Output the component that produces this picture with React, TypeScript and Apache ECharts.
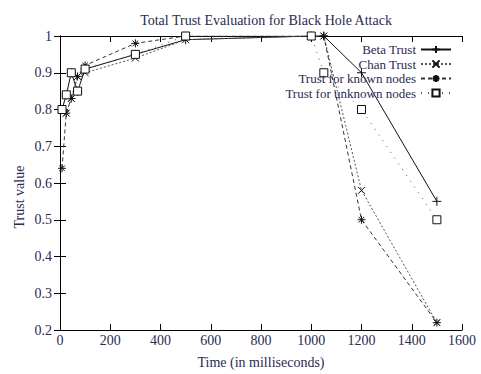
import React, { useEffect, useRef } from "react";
import * as echarts from "echarts";

const times = [8, 25, 45, 70, 100, 300, 500, 1000, 1050, 1200, 1500];
const betaTrust = [0.8, 0.84, 0.9, 0.85, 0.91, 0.95, 0.99, 1.0, 1.0, 0.9, 0.55];
const chanTrust = [0.8, 0.79, 0.83, 0.89, 0.9, 0.94, 0.99, 1.0, 1.0, 0.58, 0.22];
const knownTrust = [0.64, 0.79, 0.83, 0.89, 0.92, 0.98, 1.0, 1.0, 1.0, 0.5, 0.22];
const unknownTrust = [0.8, 0.84, 0.9, 0.85, 0.91, 0.95, 1.0, 1.0, 0.9, 0.8, 0.5];
const seriesNames = ["Beta Trust", "Chan Trust", "Trust for known nodes", "Trust for unknown nodes"];

const FONT = "Liberation Serif";
const TXT = "#2a2a55";

const PLUS = "path://M5,0L5,10M0,5L10,5";
const CROSS = "path://M0,0L10,10M10,0L0,10";
const STAR = "path://M5,0L5,10M0,5L10,5M1.5,1.5L8.5,8.5M8.5,1.5L1.5,8.5";
const SQUARE = "path://M0,0L10,0L10,10L0,10Z";

function pairs(vals: number[]) {
  return times.map((t, i) => [t, vals[i]]);
}

export default function App() {
  const ref = useRef<HTMLDivElement>(null);
  useEffect(() => {
    document.body.style.margin = "0";
    if (!ref.current) return;
    const chart = echarts.init(ref.current, undefined, { renderer: "svg" });
    const mk = (name: string, vals: number[], symbol: string, type: any, color: string, size: number, fill: string) => ({
      name,
      type: "line",
      data: pairs(vals),
      symbol,
      symbolSize: size,
      showSymbol: true,
      lineStyle: { color, width: 1, type },
      itemStyle: { color: fill, borderColor: "#111", borderWidth: 1 },
      emphasis: { disabled: true },
    });
    chart.setOption({
      animation: false,
      title: {
        text: "Total Trust Evaluation for Black Hole Attack",
        left: 261,
        textAlign: "center",
        top: 8,
        textStyle: { fontFamily: FONT, fontSize: 14, fontWeight: "normal", color: TXT },
      },
      legend: {
        orient: "vertical",
        right: 29,
        top: 43,
        padding: 0,
        align: "right",
        itemWidth: 30,
        itemHeight: 9,
        itemGap: 1.5,
        data: seriesNames,
        textStyle: { fontFamily: FONT, fontSize: 13, color: TXT, lineHeight: 12 },
      },
      grid: { left: 60, right: 19, top: 36, bottom: 43 },
      xAxis: [
        {
          type: "value",
          min: 0,
          max: 1600,
          interval: 200,
          name: "Time (in milliseconds)",
          nameLocation: "middle",
          nameGap: 25,
          nameTextStyle: { fontFamily: FONT, fontSize: 14, color: TXT },
          axisLine: { lineStyle: { color: "#000", width: 1 } },
          axisTick: { inside: true, length: 6, lineStyle: { color: "#000" } },
          axisLabel: { fontFamily: FONT, fontSize: 14, color: TXT, margin: 3, formatter: (v: number) => String(v) },
          splitLine: { show: false },
        },
        {
          type: "value",
          position: "top",
          min: 0,
          max: 1600,
          interval: 200,
          axisLine: { show: true, lineStyle: { color: "#000", width: 1 } },
          axisTick: { show: true, inside: true, length: 6, lineStyle: { color: "#000" } },
          axisLabel: { show: false },
          splitLine: { show: false },
        },
      ],
      yAxis: [
        {
          type: "value",
          min: 0.2,
          max: 1,
          interval: 0.1,
          axisLine: { show: true, lineStyle: { color: "#000", width: 1 } },
          axisTick: { show: true, inside: true, length: 6, lineStyle: { color: "#000" } },
          axisLabel: {
            fontFamily: FONT,
            fontSize: 14,
            color: TXT,
            margin: 8,
            formatter: (v: number) => String(Math.round(v * 10) / 10),
          },
          splitLine: { show: false },
        },
        {
          type: "value",
          position: "right",
          min: 0.2,
          max: 1,
          interval: 0.1,
          axisLine: { show: true, lineStyle: { color: "#000", width: 1 } },
          axisTick: { show: true, inside: true, length: 6, lineStyle: { color: "#000" } },
          axisLabel: { show: false },
          splitLine: { show: false },
        },
      ],
      graphic: [
        {
          type: "text",
          x: 19,
          y: 197,
          rotation: Math.PI / 2,
          style: {
            text: "Trust value",
            fontFamily: FONT,
            fontSize: 14,
            fill: TXT,
            align: "center",
            verticalAlign: "middle",
          },
        },
      ],
      series: [
        mk(seriesNames[0], betaTrust, PLUS, "solid", "#111", 9, "#111"),
        mk(seriesNames[1], chanTrust, CROSS, [2, 2], "#555", 7, "#111"),
        mk(seriesNames[2], knownTrust, STAR, [4, 3], "#333", 8, "#111"),
        mk(seriesNames[3], unknownTrust, SQUARE, [1, 6], "#555", 8, "#fff"),
      ],
    });
    return () => chart.dispose();
  }, []);
  return <div ref={ref} style={{ width: 481, height: 374 }} />;
}
